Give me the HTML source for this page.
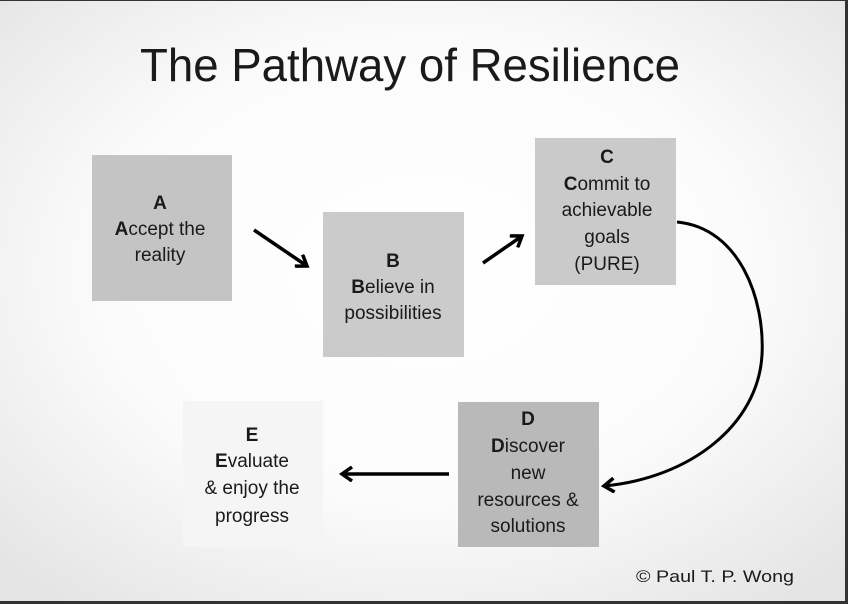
<!DOCTYPE html>
<html><head><meta charset="utf-8"><style>
html,body{margin:0;padding:0;background:#eee;}
svg{display:block}
text{font-family:"Liberation Sans",sans-serif;fill:#1a1a1a;}
</style></head><body>
<svg width="848" height="604" viewBox="0 0 848 604" xmlns="http://www.w3.org/2000/svg">
<defs>
<radialGradient id="bg" cx="0.5" cy="0.45" r="0.7">
<stop offset="0" stop-color="#ffffff"/>
<stop offset="0.55" stop-color="#fbfbfb"/>
<stop offset="1" stop-color="#e4e4e4"/>
</radialGradient>
<marker id="ah2" markerWidth="16" markerHeight="16" refX="11" refY="8" orient="auto" markerUnits="userSpaceOnUse">
<path d="M1,1 L11,8 L1,15" fill="none" stroke="#000" stroke-width="3.5"/>
</marker>
</defs>
<rect width="848" height="604" fill="url(#bg)"/>
<rect x="0" y="0" width="848" height="1" fill="#333"/>
<rect x="845" y="0" width="3" height="604" fill="#333"/>
<rect x="0" y="601" width="848" height="3" fill="#333"/>

<text x="410" y="81" font-size="46" text-anchor="middle" textLength="540" lengthAdjust="spacingAndGlyphs" fill="#000">The Pathway of Resilience</text>

<rect x="92" y="155" width="140" height="146" fill="#c4c4c4"/>
<rect x="323" y="212" width="141" height="145" fill="#cbcbcb"/>
<rect x="535" y="138" width="141" height="147" fill="#cacaca"/>
<rect x="458" y="402" width="141" height="145" fill="#b9b9b9"/>
<rect x="183" y="401" width="140" height="146" fill="#f5f5f5"/>

<g font-size="19" text-anchor="middle">
<text x="160" y="209" font-weight="bold">A</text>
<text x="160" y="235"><tspan font-weight="bold">A</tspan>ccept the</text>
<text x="160" y="261">reality</text>

<text x="393" y="267" font-weight="bold">B</text>
<text x="393" y="293"><tspan font-weight="bold">B</tspan>elieve in</text>
<text x="393" y="319">possibilities</text>

<text x="607" y="163" font-weight="bold">C</text>
<text x="607" y="190"><tspan font-weight="bold">C</tspan>ommit to</text>
<text x="607" y="216">achievable</text>
<text x="607" y="243">goals</text>
<text x="607" y="270">(PURE)</text>

<text x="528" y="425" font-weight="bold">D</text>
<text x="528" y="452"><tspan font-weight="bold">D</tspan>iscover</text>
<text x="528" y="479">new</text>
<text x="528" y="506">resources &amp;</text>
<text x="528" y="532">solutions</text>

<text x="252" y="441" font-weight="bold">E</text>
<text x="252" y="467"><tspan font-weight="bold">E</tspan>valuate</text>
<text x="252" y="494">&amp; enjoy the</text>
<text x="252" y="522">progress</text>
</g>

<line x1="254" y1="230" x2="307" y2="266" stroke="#000" stroke-width="3.5" marker-end="url(#ah2)"/>
<line x1="483" y1="263" x2="522" y2="236" stroke="#000" stroke-width="3.5" marker-end="url(#ah2)"/>
<line x1="449" y1="474" x2="342" y2="474" stroke="#000" stroke-width="3.5" marker-end="url(#ah2)"/>
<path d="M677,222 C740,228 765,300 762,355 C758,425 690,478 604,486" fill="none" stroke="#000" stroke-width="3" marker-end="url(#ah2)"/>

<text x="715" y="582" font-size="17" text-anchor="middle" textLength="158" lengthAdjust="spacingAndGlyphs">© Paul T. P. Wong</text>
</svg>
</body></html>
